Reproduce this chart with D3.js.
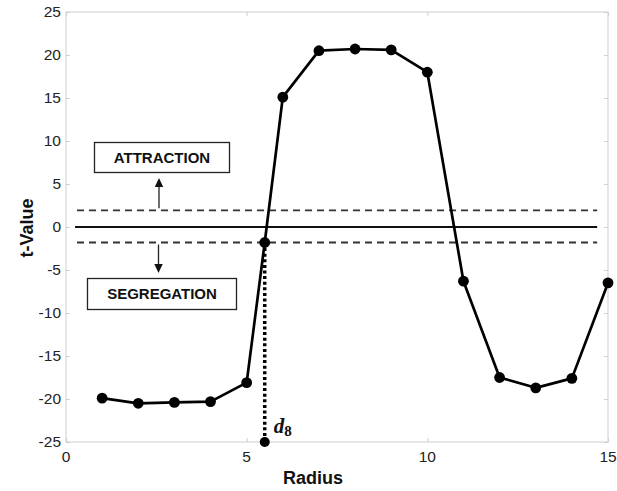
<!DOCTYPE html>
<html><head><meta charset="utf-8">
<script src="https://cdn.jsdelivr.net/npm/d3@7"></script>
<style>body{margin:0;background:#fff}svg{display:block}</style>
</head><body><svg id="c" width="617" height="491"></svg>
<script>
const radius = [1, 2, 3, 4, 5, 5.5, 6, 7, 8, 9, 10, 11, 12, 13, 14, 15];
const tValue = [-19.9, -20.5, -20.4, -20.3, -18.1, -1.8, 15.1, 20.5, 20.7, 20.6, 18.0, -6.3, -17.5, -18.7, -17.6, -6.5];
const xTicks = [0, 5, 10, 15];
const yTicks = [25, 20, 15, 10, 5, 0, -5, -10, -15, -20, -25];
const thresholdUpper = 1.94;
const thresholdLower = -1.8;
const d8 = {x: 5.5, yTop: -1.8, yBottom: -25};
const refLineRange = [0.25, 14.7];
const labels = {x: "Radius", y: "t-Value", up: "ATTRACTION", down: "SEGREGATION"};

const svg = d3.select("#c");
const L = 66, R = 608, T = 12, B = 442;
const x = d3.scaleLinear().domain([0, 15]).range([L, R]);
const y = d3.scaleLinear().domain([-25, 25]).range([B, T]);
const font = "Liberation Sans, Arial, Helvetica, sans-serif";

// frame
svg.append("rect").attr("x", L).attr("y", T).attr("width", R - L).attr("height", B - T)
  .attr("fill", "none").attr("stroke", "#d6d6d6").attr("stroke-width", 1.2);

// axes with inward ticks
const tickCol = "#cfcfcf";
const gL = svg.append("g").attr("transform", `translate(${L},0)`)
  .call(d3.axisRight(y).tickValues(yTicks).tickSize(4).tickFormat(""));
const gR = svg.append("g").attr("transform", `translate(${R},0)`)
  .call(d3.axisLeft(y).tickValues(yTicks).tickSize(4).tickFormat(""));
const gT = svg.append("g").attr("transform", `translate(0,${T})`)
  .call(d3.axisBottom(x).tickValues(xTicks).tickSize(4).tickFormat(""));
const gB = svg.append("g").attr("transform", `translate(0,${B})`)
  .call(d3.axisTop(x).tickValues(xTicks).tickSize(4).tickFormat(""));
[gL, gR, gT, gB].forEach(g => { g.select(".domain").remove(); g.selectAll("line").attr("stroke", tickCol); });

// tick labels
svg.append("g").selectAll("text").data(yTicks).join("text")
  .attr("x", L - 5).attr("y", d => y(d)).attr("dy", "0.35em")
  .attr("text-anchor", "end").attr("font-family", font).attr("font-size", 15.5).attr("fill", "#222")
  .text(d => d);
svg.append("g").selectAll("text").data(xTicks).join("text")
  .attr("x", d => x(d)).attr("y", B + 20)
  .attr("text-anchor", "middle").attr("font-family", font).attr("font-size", 15.5).attr("fill", "#222")
  .text(d => d);

// axis titles
svg.append("text").attr("x", 313).attr("y", 484).attr("text-anchor", "middle")
  .attr("font-family", font).attr("font-weight", "bold").attr("font-size", 18).attr("fill", "#111").text(labels.x);
svg.append("text").attr("transform", "translate(33,228) rotate(-90)").attr("text-anchor", "middle")
  .attr("font-family", font).attr("font-weight", "bold").attr("font-size", 18).attr("fill", "#111").text(labels.y);

// reference lines
svg.append("line").attr("x1", x(refLineRange[0])).attr("x2", x(refLineRange[1]))
  .attr("y1", y(0)).attr("y2", y(0)).attr("stroke", "#111").attr("stroke-width", 1.8);
[thresholdUpper, thresholdLower].forEach(v => {
  svg.append("line").attr("x1", x(refLineRange[0]) + 2).attr("x2", x(refLineRange[1]))
    .attr("y1", y(v)).attr("y2", y(v)).attr("stroke", "#333").attr("stroke-width", 1.8)
    .attr("stroke-dasharray", "7,5");
});

// d8 dotted line
svg.append("line").attr("x1", x(d8.x)).attr("x2", x(d8.x))
  .attr("y1", y(d8.yTop)).attr("y2", y(d8.yBottom))
  .attr("stroke", "#000").attr("stroke-width", 3.5).attr("stroke-dasharray", "3,2.6");
svg.append("circle").attr("cx", x(d8.x)).attr("cy", y(d8.yBottom)).attr("r", 5).attr("fill", "#000");
const d8t = svg.append("text").attr("x", x(d8.x) + 9).attr("y", 433)
  .attr("font-family", "Liberation Serif, Times New Roman, serif").attr("font-weight", "bold").attr("fill", "#111");
d8t.append("tspan").attr("font-style", "italic").attr("font-size", 21).text("d");
d8t.append("tspan").attr("font-size", 15).attr("dy", 3).text("8");

// data line + markers
const pts = radius.map((r, i) => [r, tValue[i]]);
svg.append("path").datum(pts)
  .attr("d", d3.line().x(d => x(d[0])).y(d => y(d[1])))
  .attr("fill", "none").attr("stroke", "#000").attr("stroke-width", 2.7).attr("stroke-linejoin", "round");
svg.append("g").selectAll("circle").data(pts).join("circle")
  .attr("cx", d => x(d[0])).attr("cy", d => y(d[1])).attr("r", 5.4).attr("fill", "#000");

// annotation boxes
function box(x0, y0, w, h, txt) {
  svg.append("rect").attr("x", x0).attr("y", y0).attr("width", w).attr("height", h)
    .attr("fill", "#fff").attr("stroke", "#222").attr("stroke-width", 1.3);
  svg.append("text").attr("x", x0 + w / 2).attr("y", y0 + h / 2).attr("dy", "0.36em")
    .attr("text-anchor", "middle").attr("font-family", font).attr("font-weight", "bold")
    .attr("font-size", 15).attr("fill", "#111").text(txt);
}
box(94.5, 142.5, 135, 30, labels.up);
box(87.5, 278.5, 149, 31, labels.down);

// arrows
function arrow(ax, y1, y2) {
  const dir = y2 < y1 ? -1 : 1;
  svg.append("line").attr("x1", ax).attr("x2", ax).attr("y1", y1).attr("y2", y2 - dir * 7)
    .attr("stroke", "#222").attr("stroke-width", 1.3);
  svg.append("path").attr("d", `M${ax},${y2} L${ax - 4.2},${y2 - dir * 9} L${ax + 4.2},${y2 - dir * 9} Z`)
    .attr("fill", "#111");
}
arrow(159, y(thresholdUpper) - 2, 178);
arrow(158.5, y(thresholdLower) + 2, 273);
</script>
</body></html>
